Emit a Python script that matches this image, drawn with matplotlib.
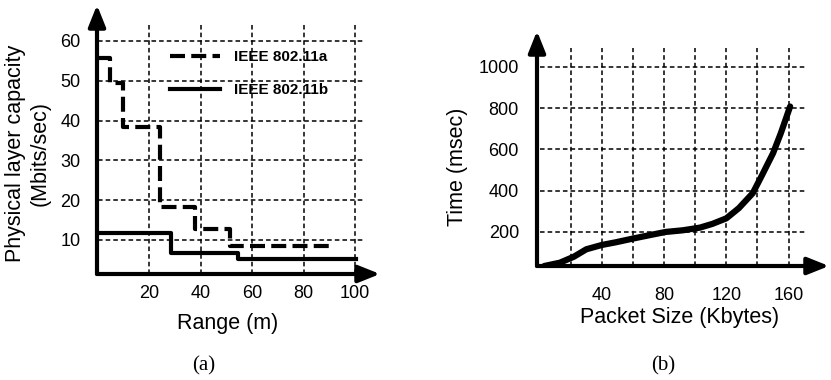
import matplotlib
matplotlib.use("Agg")
import matplotlib.pyplot as plt

plt.rcParams['font.family'] = ['Liberation Sans', 'DejaVu Sans']

# (a) physical layer capacity vs range, step curves
range_a = [0, 4.7, 9.6, 24, 37.7, 51.4, 91.6]
cap_a = [55.6, 49.4, 38.3, 18.2, 12.7, 8.6, 8.6]
range_b = [0, 28.4, 54.5, 100.4]
cap_b = [11.7, 6.7, 5.2, 5.2]
range_ticks = [20, 40, 60, 80, 100]
cap_ticks = [10, 20, 30, 40, 50, 60]

# (b) time vs packet size
pkt_size = [3, 13, 22, 30, 40, 49, 60, 71, 81, 92, 103, 111, 120, 128, 137, 143, 150, 155, 158, 161]
time_ms = [35, 51, 80, 116, 137, 150, 168, 185, 200, 208, 221, 239, 266, 315, 388, 476, 581, 678, 743, 808]
size_grid = [20, 40, 60, 80, 100, 120, 140, 160]
size_ticks = [40, 80, 120, 160]
time_ticks = [200, 400, 600, 800, 1000]

W, H = 831, 380
fig = plt.figure(figsize=(W / 100, H / 100), dpi=100)


def px(x0, y0, x1, y1):
    # axes rect from pixel box (left, top, right, bottom)
    return [x0 / W, 1 - y1 / H, (x1 - x0) / W, (y1 - y0) / H]


def arrow_axes(ax):
    for s in ax.spines.values():
        s.set_visible(False)
    kw = dict(arrowstyle='-|>,head_length=1.0,head_width=0.4', lw=3,
              color='black', mutation_scale=13, shrinkA=0, shrinkB=0)
    ax.annotate('', xy=(0, 1), xytext=(0, 0), xycoords='axes fraction',
                arrowprops=kw, annotation_clip=False)
    ax.annotate('', xy=(1, 0), xytext=(0, 0), xycoords='axes fraction',
                arrowprops=kw, annotation_clip=False)
    ax.tick_params(length=0, labelsize=13)


grid_kw = dict(color='black', lw=1.1, linestyles=(0, (3, 2)), zorder=1)

# ---- left panel
ax1 = fig.add_axes(px(97, 5, 380, 274))
ax1.set_xlim(-0.4, 109.7)
ax1.set_ylim(1.46, 69)
ax1.hlines(cap_ticks, 0, 104, **grid_kw)
ax1.vlines(range_ticks, 1.46, 64.8, **grid_kw)
ax1.plot(range_a, cap_a, drawstyle='steps-post', color='black', lw=3,
         dashes=(3.6, 1.5), label='IEEE 802.11a', zorder=3)
ax1.plot(range_b, cap_b, drawstyle='steps-post', color='black', lw=3,
         label='IEEE 802.11b', zorder=3)
arrow_axes(ax1)
ax1.set_xticks(range_ticks)
ax1.set_yticks(cap_ticks)
ax1.tick_params(axis='y', pad=12)
ax1.tick_params(axis='x', pad=8)
ax1.legend(loc='upper left', bbox_to_anchor=(170 / W, 1 - 50 / H),
           bbox_transform=fig.transFigure, frameon=False, borderpad=0,
           borderaxespad=0, handlelength=3.3, handletextpad=0.9,
           labelspacing=1.25, prop={'weight': 'bold', 'size': 11})

# ---- right panel
ax2 = fig.add_axes(px(537, 31, 829, 266))
ax2.set_xlim(-1.7, 186)
ax2.set_ylim(35, 1174)
ax2.hlines(time_ticks, 0, 171.6, **grid_kw)
ax2.vlines(size_grid, 35, 1092, **grid_kw)
ax2.plot(pkt_size, time_ms, color='black', lw=4.5, solid_capstyle='round',
         solid_joinstyle='round', zorder=3)
arrow_axes(ax2)
ax2.set_xticks(size_ticks)
ax2.set_yticks(time_ticks)
ax2.tick_params(axis='y', pad=13)
ax2.tick_params(axis='x', pad=15)

# axis titles and captions
fig.text(28 / W, 1 - 153 / H, 'Physical layer capacity\n(Mbits/sec)',
         rotation=90, ha='center', va='center', fontsize=15.5)
fig.text(228 / W, 1 - 323 / H, 'Range (m)', ha='center', va='center', fontsize=15.5)
fig.text(457 / W, 1 - 167 / H, 'Time (msec)', rotation=90,
         ha='center', va='center', fontsize=15.5)
fig.text(680 / W, 1 - 318 / H, 'Packet Size (Kbytes)', ha='center', va='center', fontsize=15.5)
fig.text(204 / W, 1 - 366 / H, '(a)', ha='center', va='center',
         fontsize=15, family='Liberation Serif')
fig.text(663 / W, 1 - 366 / H, '(b)', ha='center', va='center',
         fontsize=15, family='Liberation Serif')

fig.savefig('out.png', dpi=100)
